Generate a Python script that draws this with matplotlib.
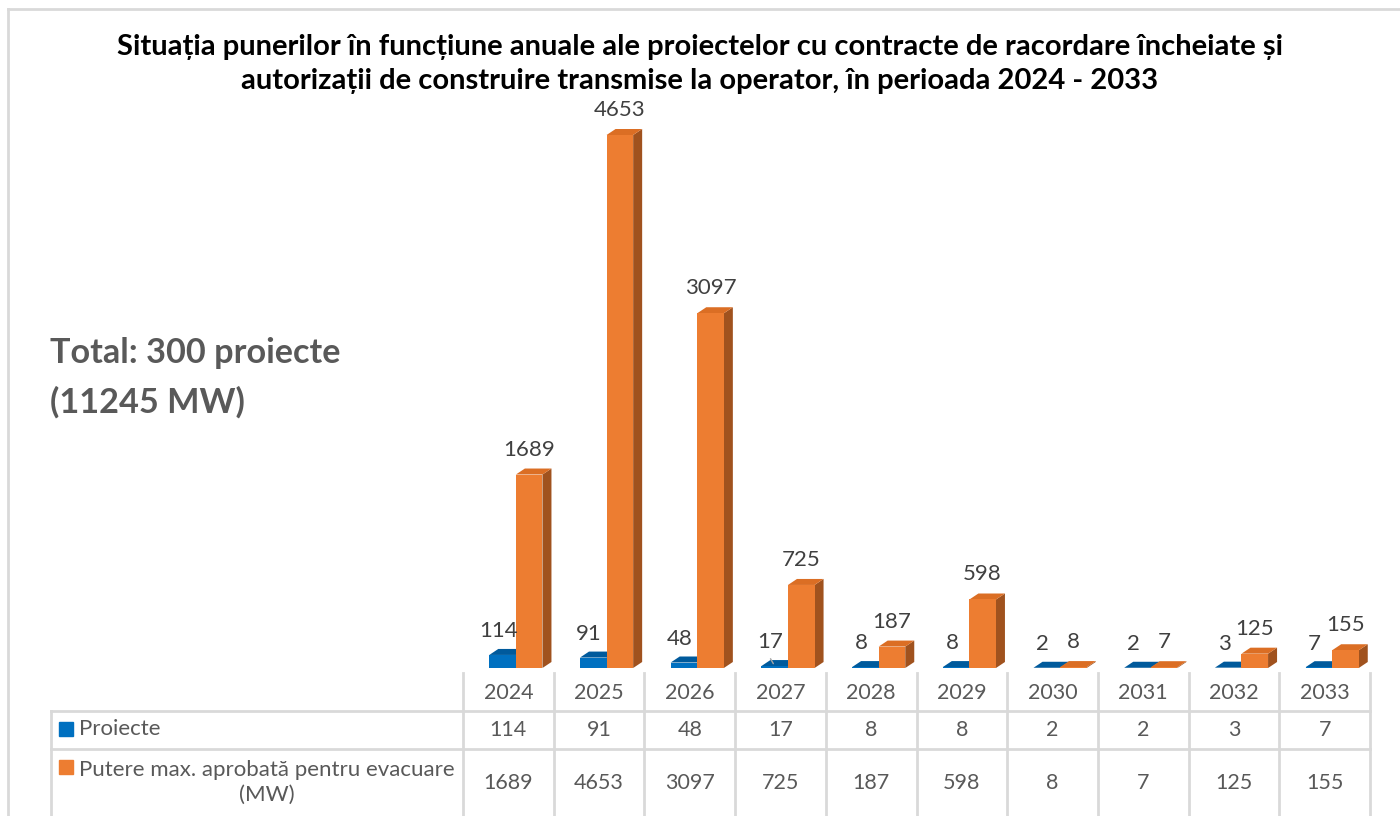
import matplotlib
matplotlib.use("Agg")
import matplotlib.pyplot as plt
from matplotlib.patches import Polygon, Rectangle
from matplotlib.lines import Line2D

plt.rcParams["font.family"] = ["Lato", "DejaVu Sans"]

years = ["2024", "2025", "2026", "2027", "2028", "2029", "2030", "2031", "2032", "2033"]
proiecte = [114, 91, 48, 17, 8, 8, 2, 2, 3, 7]
putere = [1689, 4653, 3097, 725, 187, 598, 8, 7, 125, 155]
series_names = ["Proiecte", "Putere max. aprobată pentru evacuare\n(MW)"]

title = ("Situația punerilor în funcțiune anuale ale proiectelor cu contracte de racordare încheiate și\n"
         "autorizații de construire transmise la operator, în perioada 2024 - 2033")
total_text = "Total: 300 proiecte\n(11245 MW)"

BLUE = ("#0070C0", "#005A9C", "#004A80")      # front, top, side
ORANGE = ("#ED7D31", "#DB6E24", "#A0521E")
GRID = "#D9D9D9"
TXT = "#595959"
LBL = "#404040"

W, H = 1400, 816
fig = plt.figure(figsize=(W / 100, H / 100), dpi=100)

# pixel layout
x0, x1 = 463, 1370          # category area (table columns)
base_y, top_y = 668, 100    # bar floor / top of plot area
px_per_unit = 0.11455
col_w = (x1 - x0) / len(years)

ax = fig.add_axes([x0 / W, 1 - base_y / H, (x1 - x0) / W, (base_y - top_y) / H])
ax.set_xlim(-0.5, len(years) - 0.5)
ax.set_ylim(0, (base_y - top_y) / px_per_unit)
ax.axis("off")

bw = 0.293
dx = 9 / col_w
dy = 6 / px_per_unit


def bar3d(lefts, vals, colors, z):
    ax.bar(lefts, vals, width=bw, align="edge", color=colors[0], zorder=z, linewidth=0)
    for l, v in zip(lefts, vals):
        side = [(l + bw, 0), (l + bw + dx, dy), (l + bw + dx, v + dy), (l + bw, v)]
        top = [(l, v), (l + dx, v + dy), (l + bw + dx, v + dy), (l + bw, v)]
        ax.add_patch(Polygon(side, closed=True, color=colors[2], zorder=z - 0.5, lw=0))
        ax.add_patch(Polygon(top, closed=True, color=colors[1], zorder=z - 0.5, lw=0))


xs = list(range(len(years)))
blue_l = [x - 0.21 for x in xs]
orange_l = [l + bw for l in blue_l]
bar3d(blue_l, proiecte, BLUE, 2)
bar3d(orange_l, putere, ORANGE, 4)

for l, v in zip(blue_l, proiecte):
    ax.annotate(str(v), (l + bw / 2, v), xytext=(-3, 17), textcoords="offset points",
                ha="center", va="center", fontsize=16, color=LBL, zorder=6)
for l, v in zip(orange_l, putere):
    ax.annotate(str(v), (l + bw / 2, v), xytext=(0, 18), textcoords="offset points",
                ha="center", va="center", fontsize=16, color=LBL, zorder=6)
# leader line for the 2027 label
ax.annotate("", (blue_l[3] + bw / 2, proiecte[3]), xytext=(-4, 7), textcoords="offset points",
            arrowprops=dict(arrowstyle="-", color="#A6A6A6", lw=1), zorder=6)

# overlay axes in pixel coords for frame, title and data table
ov = fig.add_axes([0, 0, 1, 1], zorder=-1)
ov.set_xlim(0, W)
ov.set_ylim(H, 0)
ov.axis("off")

ov.add_line(Line2D([8, 8], [9, H], color=GRID, lw=2))
ov.add_line(Line2D([8, W], [9, 9], color=GRID, lw=2))

fig.text(0.5, 1 - 64 / H, title, ha="center", va="center", fontsize=21,
         fontweight="bold", color="black", linespacing=1.42)
fig.text(50 / W, 1 - 378 / H, total_text, ha="left", va="center", fontsize=24.7,
         fontweight="bold", color=TXT, linespacing=1.65)

# data table
hdr_top, r1_top, r2_top = 673, 711, 749
left_x = 51
for i in range(len(years) + 1):
    cx = x0 + i * col_w
    ov.add_line(Line2D([cx, cx], [hdr_top, H], color=GRID, lw=2))
ov.add_line(Line2D([left_x, left_x], [r1_top, H], color=GRID, lw=2))
for yy in (r1_top, r2_top):
    ov.add_line(Line2D([left_x, x1], [yy, yy], color=GRID, lw=2))

rows = [proiecte, putere]
for i, yr in enumerate(years):
    cx = x0 + (i + 0.5) * col_w
    ov.text(cx, 693, yr, ha="center", va="center", fontsize=15.5, color=TXT)
    ov.text(cx, 730, str(rows[0][i]), ha="center", va="center", fontsize=15.5, color=TXT)
    ov.text(cx, 783, str(rows[1][i]), ha="center", va="center", fontsize=15.5, color=TXT)

ov.add_patch(Rectangle((59, 722), 14, 14, color=BLUE[0]))
ov.text(79, 729, series_names[0], ha="left", va="center", fontsize=16, color=TXT)
ov.add_patch(Rectangle((59, 760), 14, 14, color=ORANGE[0]))
ov.text(267, 782, series_names[1], ha="center", va="center", fontsize=16, color=TXT,
        linespacing=1.3, multialignment="center")

fig.savefig("out.png", dpi=100)
